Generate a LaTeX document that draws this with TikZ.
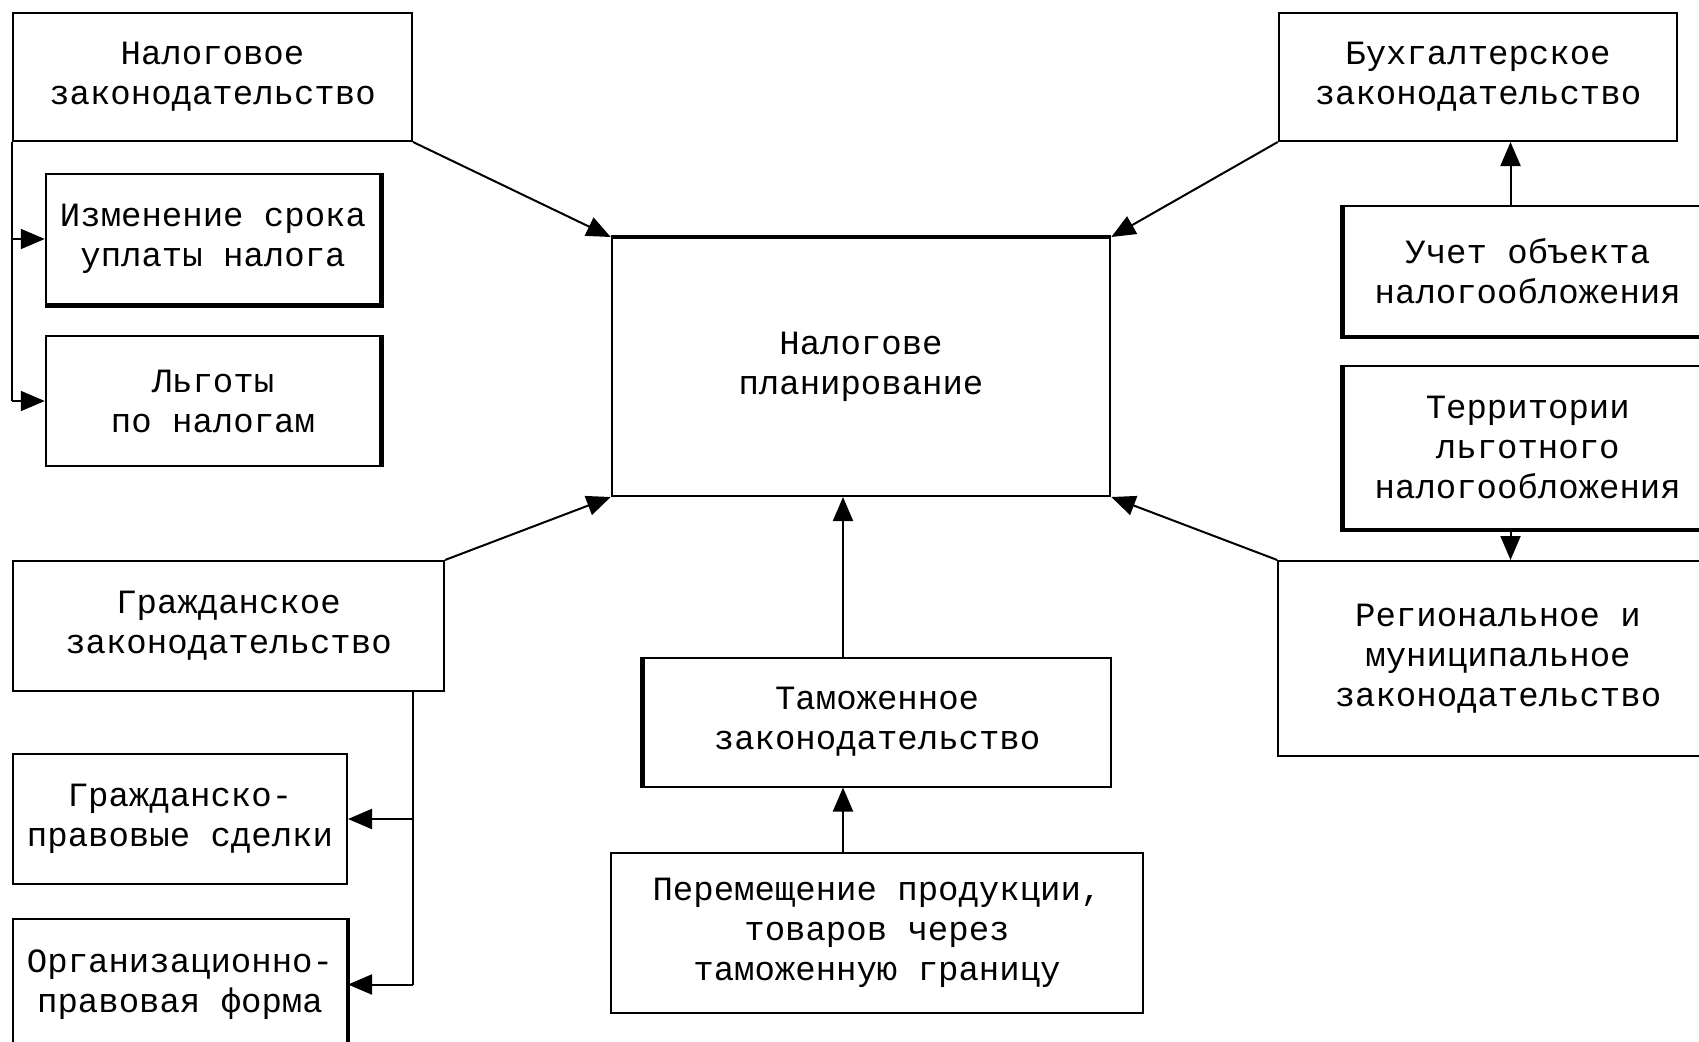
\documentclass[tikz,border=0pt]{standalone}
\usepackage{fontspec}
\newfontfamily\boxfont{Liberation Mono}
\usetikzlibrary{arrows.meta,calc}
\begin{document}
\begin{tikzpicture}[x=1pt,y=-1pt,
  box/.style={draw, line width=2pt, inner sep=0pt, align=center,
    font=\boxfont\fontsize{34}{40}\selectfont},
  arr/.style={line width=2pt, -{Triangle[length=24pt,width=20pt]}},
  ln/.style={line width=2pt},
  thick edge/.style={line width=4.5pt}]
\useasboundingbox (0,0) rectangle (1699,1041);
\clip (0,0) rectangle (1699,1041);
\fill[white] (0,0) rectangle (1699,1041);

\node[box, minimum width=399pt, minimum height=128pt] (nal) at (212.5,77) {Налоговое\\законодательство};
\node[box, minimum width=334.5pt, minimum height=130.5pt] (izm) at (213,239) {Изменение срока\\уплаты налога};
\node[box, minimum width=334.5pt, minimum height=130pt] (lgot) at (213,401) {Льготы\\по налогам};
\node[box, minimum width=498.6pt, minimum height=258pt] (cen) at (861,367) {Налогове\\планирование};
\node[box, minimum width=398.5pt, minimum height=128pt] (buh) at (1478,77) {Бухгалтерское\\законодательство};
\node[box, minimum width=368.5pt, minimum height=130pt] (uch) at (1527.75,271) {Учет объекта\\налогообложения};
\node[box, minimum width=368.5pt, minimum height=163pt] (ter) at (1527.75,447.5) {Территории\\льготного\\налогообложения};
\node[box, minimum width=439.5pt, minimum height=195pt] (reg) at (1498,658.5) {Региональное и\\муниципальное\\законодательство};
\node[box, minimum width=431pt, minimum height=130pt] (gra) at (228.5,626) {Гражданское\\законодательство};
\node[box, minimum width=334pt, minimum height=130pt] (sde) at (180,819) {Гражданско-\\правовые сделки};
\node[box, minimum width=334pt, minimum height=131pt] (org) at (180,984.5) {Организационно-\\правовая форма};
\node[box, minimum width=467pt, minimum height=129pt] (tam) at (877.1,722) {Таможенное\\законодательство};
\node[box, minimum width=532pt, minimum height=160pt] (per) at (877,933) {Перемещение продукции,\\товаров через\\таможенную границу};

% thicker edges (shadow-like)
\draw[thick edge] (izm.north east) -- (izm.south east) -- (izm.south west);
\draw[thick edge] (lgot.north east) -- (lgot.south east);
\draw[thick edge] (cen.north west) -- (cen.north east);
\draw[thick edge] (uch.north west) -- (uch.south west) -- (uch.south east);
\draw[thick edge] (ter.north west) -- (ter.south west) -- (ter.south east);
\draw[thick edge] (tam.north west) -- (tam.south west);
\draw[thick edge] (org.north east) -- (org.south east);

% diagonal connectors to the centre
\draw[arr] (nal.south east) -- (cen.north west);
\draw[arr] (buh.south west) -- (cen.north east);
\draw[arr] (gra.north east) -- (cen.south west);
\draw[arr] (reg.north west) -- (cen.south east);

% left branch from tax legislation
\draw[ln] (nal.south west) -- (nal.south west |- lgot.west);
\draw[arr] (nal.south west |- izm.west) -- (izm.west);
\draw[arr] (nal.south west |- lgot.west) -- (lgot.west);

% right side vertical arrows
\draw[arr] ([xshift=168pt]uch.north west) coordinate (u1) -- (u1 |- buh.south);
\draw[arr] ([xshift=168pt]ter.south west) coordinate (t1) -- (t1 |- reg.north);

% customs chain
\draw[arr] ([xshift=200.4pt]tam.north west) coordinate (m1) -- (m1 |- cen.south);
\draw[arr] ([xshift=233pt]per.north west) coordinate (p1) -- (p1 |- tam.south);

% civil legislation branch
\draw[ln] ([xshift=-32pt]gra.south east) coordinate (g1) -- (g1 |- org.east);
\draw[arr] (g1 |- sde.east) -- (sde.east);
\draw[arr] (g1 |- org.east) -- (org.east);
\end{tikzpicture}
\end{document}
